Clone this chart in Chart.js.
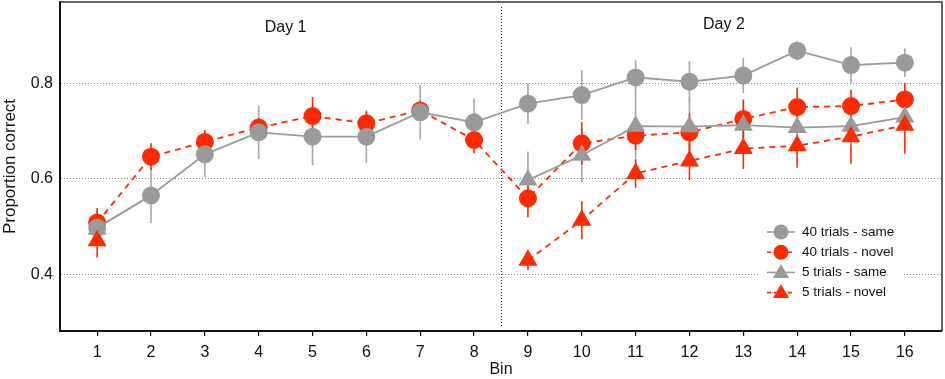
<!DOCTYPE html>
<html>
<head>
<meta charset="utf-8">
<script src="https://cdn.jsdelivr.net/npm/chart.js@4/dist/chart.umd.min.js"></script>
<style>
  html, body { margin: 0; padding: 0; background: #fff; }
  #wrap { width: 945px; height: 379px; position: relative; }
</style>
</head>
<body>
<div id="wrap"><canvas id="c"></canvas></div>
<script>
// ─── data ───
var BINS = [1, 2, 3, 4, 5, 6, 7, 8, 9, 10, 11, 12, 13, 14, 15, 16];
var Y_TICKS = [0.4, 0.6, 0.8];

var SAME40     = [0.497, 0.565, 0.651, 0.697, 0.688, 0.688, 0.739, 0.718, 0.757, 0.775, 0.812, 0.803, 0.816, 0.868, 0.838, 0.843];
var SAME40_ERR = [0.040, 0.058, 0.048, 0.056, 0.060, 0.055, 0.057, 0.050, 0.042, 0.052, 0.036, 0.043, 0.037, 0.020, 0.037, 0.030];

var NOVEL40     = [0.508, 0.646, 0.677, 0.707, 0.731, 0.716, 0.743, 0.681, 0.559, 0.674, 0.690, 0.697, 0.725, 0.750, 0.752, 0.766];
var NOVEL40_ERR = [0.030, 0.028, 0.025, 0.020, 0.040, 0.025, 0.020, 0.028, 0.040, 0.045, 0.030, 0.040, 0.040, 0.041, 0.035, 0.035];

var SAME5     = [0.494, null, null, null, null, null, null, null, 0.597, 0.649, 0.710, 0.709, 0.712, 0.707, 0.710, 0.729];
var SAME5_ERR = [0, 0, 0, 0, 0, 0, 0, 0, 0.060, 0.056, 0.068, 0.060, 0.054, 0.040, 0.040, 0.030];

var NOVEL5     = [0.470, null, null, null, null, null, null, null, 0.429, 0.513, 0.611, 0.637, 0.663, 0.669, 0.688, 0.712];
var NOVEL5_ERR = [0.035, 0, 0, 0, 0, 0, 0, 0, 0.020, 0.040, 0.030, 0.040, 0.043, 0.046, 0.057, 0.060];

var GRAY = '#9a9a9a';
var RED = '#ff2a00';
var FONT = '"Liberation Sans", Arial, Helvetica, sans-serif';

function pts(arr) {
  return BINS.map(function (b, i) { return { x: b, y: arr[i] }; });
}

// error bars, day divider, day labels, legend box
var extras = {
  id: 'extras',
  beforeDatasetsDraw: function (chart) {
    var ctx = chart.ctx, xs = chart.scales.x, ys = chart.scales.y, a = chart.chartArea;
    ctx.save();
    // divider between days
    ctx.strokeStyle = '#222';
    ctx.lineWidth = 1;
    ctx.setLineDash([1, 2]);
    var xd = Math.round(xs.getPixelForValue(8.5)) + 0.5;
    ctx.beginPath();
    ctx.moveTo(xd, a.top + 5);
    ctx.lineTo(xd, a.bottom - 4);
    ctx.stroke();
    ctx.setLineDash([]);
    // error bars
    chart.data.datasets.forEach(function (ds) {
      ctx.strokeStyle = ds.errColor;
      ctx.lineWidth = 1.6;
      ds.data.forEach(function (p, i) {
        if (p.y == null || !ds.err[i]) return;
        var x = xs.getPixelForValue(p.x);
        ctx.beginPath();
        ctx.moveTo(x, ys.getPixelForValue(p.y - ds.err[i]));
        ctx.lineTo(x, ys.getPixelForValue(p.y + ds.err[i]));
        ctx.stroke();
      });
    });
    // day labels
    ctx.fillStyle = '#111';
    ctx.font = '16px ' + FONT;
    ctx.textAlign = 'center';
    ctx.textBaseline = 'middle';
    ctx.fillText('Day 1', xs.getPixelForValue(4.5), ys.getPixelForValue(0.917));
    ctx.fillText('Day 2', xs.getPixelForValue(12.64), ys.getPixelForValue(0.923));
    ctx.restore();
  },
  afterDraw: function (chart) {
    var ctx = chart.ctx, a = chart.chartArea;
    ctx.save();
    // top and right frame
    ctx.strokeStyle = '#333';
    ctx.lineWidth = 1.5;
    ctx.beginPath();
    ctx.moveTo(a.left, a.top);
    ctx.lineTo(a.right, a.top);
    ctx.lineTo(a.right, a.bottom);
    ctx.stroke();
    // legend
    ctx.fillStyle = '#fff';
    ctx.fillRect(758, 222, 146, 80);
    var rows = [
      { label: '40 trials - same', color: GRAY, shape: 'circle', dash: [] },
      { label: '40 trials - novel', color: RED, shape: 'circle', dash: [4, 3] },
      { label: '5 trials - same', color: GRAY, shape: 'triangle', dash: [] },
      { label: '5 trials - novel', color: RED, shape: 'triangle', dash: [4, 3] }
    ];
    ctx.font = '13.5px ' + FONT;
    ctx.textAlign = 'left';
    ctx.textBaseline = 'middle';
    rows.forEach(function (r, i) {
      var y = 232 + i * 20.2;
      var cx = 781;
      ctx.strokeStyle = r.color;
      ctx.lineWidth = 1.6;
      ctx.setLineDash(r.dash);
      ctx.beginPath();
      ctx.moveTo(767, y);
      ctx.lineTo(795, y);
      ctx.stroke();
      ctx.setLineDash([]);
      ctx.fillStyle = r.color;
      ctx.beginPath();
      if (r.shape === 'circle') {
        ctx.arc(cx, y, 7.5, 0, Math.PI * 2);
      } else {
        ctx.moveTo(cx, y - 8.5);
        ctx.lineTo(cx + 8, y + 5.5);
        ctx.lineTo(cx - 8, y + 5.5);
        ctx.closePath();
      }
      ctx.fill();
      ctx.fillStyle = '#111';
      ctx.fillText(r.label, 802, y);
    });
    ctx.restore();
  }
};

new Chart(document.getElementById('c'), {
  type: 'line',
  data: {
    datasets: [
      {
        label: '5 trials - novel', data: pts(NOVEL5), err: NOVEL5_ERR, errColor: RED,
        borderColor: RED, backgroundColor: RED, borderDash: [6, 5], borderWidth: 1.8,
        pointStyle: 'triangle', pointRadius: 11, pointBorderWidth: 0, order: 1
      },
      {
        label: '5 trials - same', data: pts(SAME5), err: SAME5_ERR, errColor: '#a6a6a6',
        borderColor: GRAY, backgroundColor: GRAY, borderWidth: 1.8,
        pointStyle: 'triangle', pointRadius: 11, pointBorderWidth: 0, order: 2
      },
      {
        label: '40 trials - same', data: pts(SAME40), err: SAME40_ERR, errColor: '#a6a6a6',
        borderColor: GRAY, backgroundColor: GRAY, borderWidth: 1.8,
        pointStyle: 'circle', pointRadius: 9, pointBorderWidth: 0, order: 3
      },
      {
        label: '40 trials - novel', data: pts(NOVEL40), err: NOVEL40_ERR, errColor: RED,
        borderColor: RED, backgroundColor: RED, borderDash: [6, 5], borderWidth: 1.8,
        pointStyle: 'circle', pointRadius: 9, pointBorderWidth: 0, order: 4
      }
    ]
  },
  options: {
    responsive: true,
    maintainAspectRatio: false,
    animation: false,
    spanGaps: false,
    layout: { autoPadding: false, padding: { top: 2, right: 3, left: 0, bottom: 0 } },
    plugins: { legend: { display: false }, tooltip: { enabled: false } },
    elements: { line: { tension: 0 }, point: { hoverRadius: 9 } },
    scales: {
      x: {
        type: 'linear',
        min: 0.31, max: 16.69,
        afterBuildTicks: function (s) { s.ticks = BINS.map(function (v) { return { value: v }; }); },
        afterFit: function (s) { s.height = 48; s.paddingLeft = 0; s.paddingRight = 0; },
        border: { display: true, color: '#111', width: 2 },
        grid: { drawOnChartArea: false, drawTicks: true, tickLength: 5, color: '#111', lineWidth: 1.2 },
        ticks: { color: '#111', font: { family: FONT, size: 16 }, padding: 7, maxRotation: 0, autoSkip: false },
        title: { display: true, text: 'Bin', color: '#111', font: { family: FONT, size: 16 }, padding: { top: 2, bottom: 0 } }
      },
      y: {
        min: 0.281, max: 0.97,
        afterBuildTicks: function (s) { s.ticks = Y_TICKS.map(function (v) { return { value: v }; }); },
        afterFit: function (s) { s.width = 60; s.paddingTop = 0; s.paddingBottom = 0; },
        border: { display: true, color: '#111', width: 2, dash: [1, 2] },
        grid: { drawTicks: false, color: '#8a8a8a', lineWidth: 1 },
        ticks: {
          color: '#111', font: { family: FONT, size: 16 }, padding: 7,
          callback: function (v) { return v.toFixed(1); }
        },
        title: { display: true, text: 'Proportion correct', color: '#111', font: { family: FONT, size: 17 }, padding: { top: 0, bottom: 4 } }
      }
    }
  },
  plugins: [extras]
});
</script>
</body>
</html>
